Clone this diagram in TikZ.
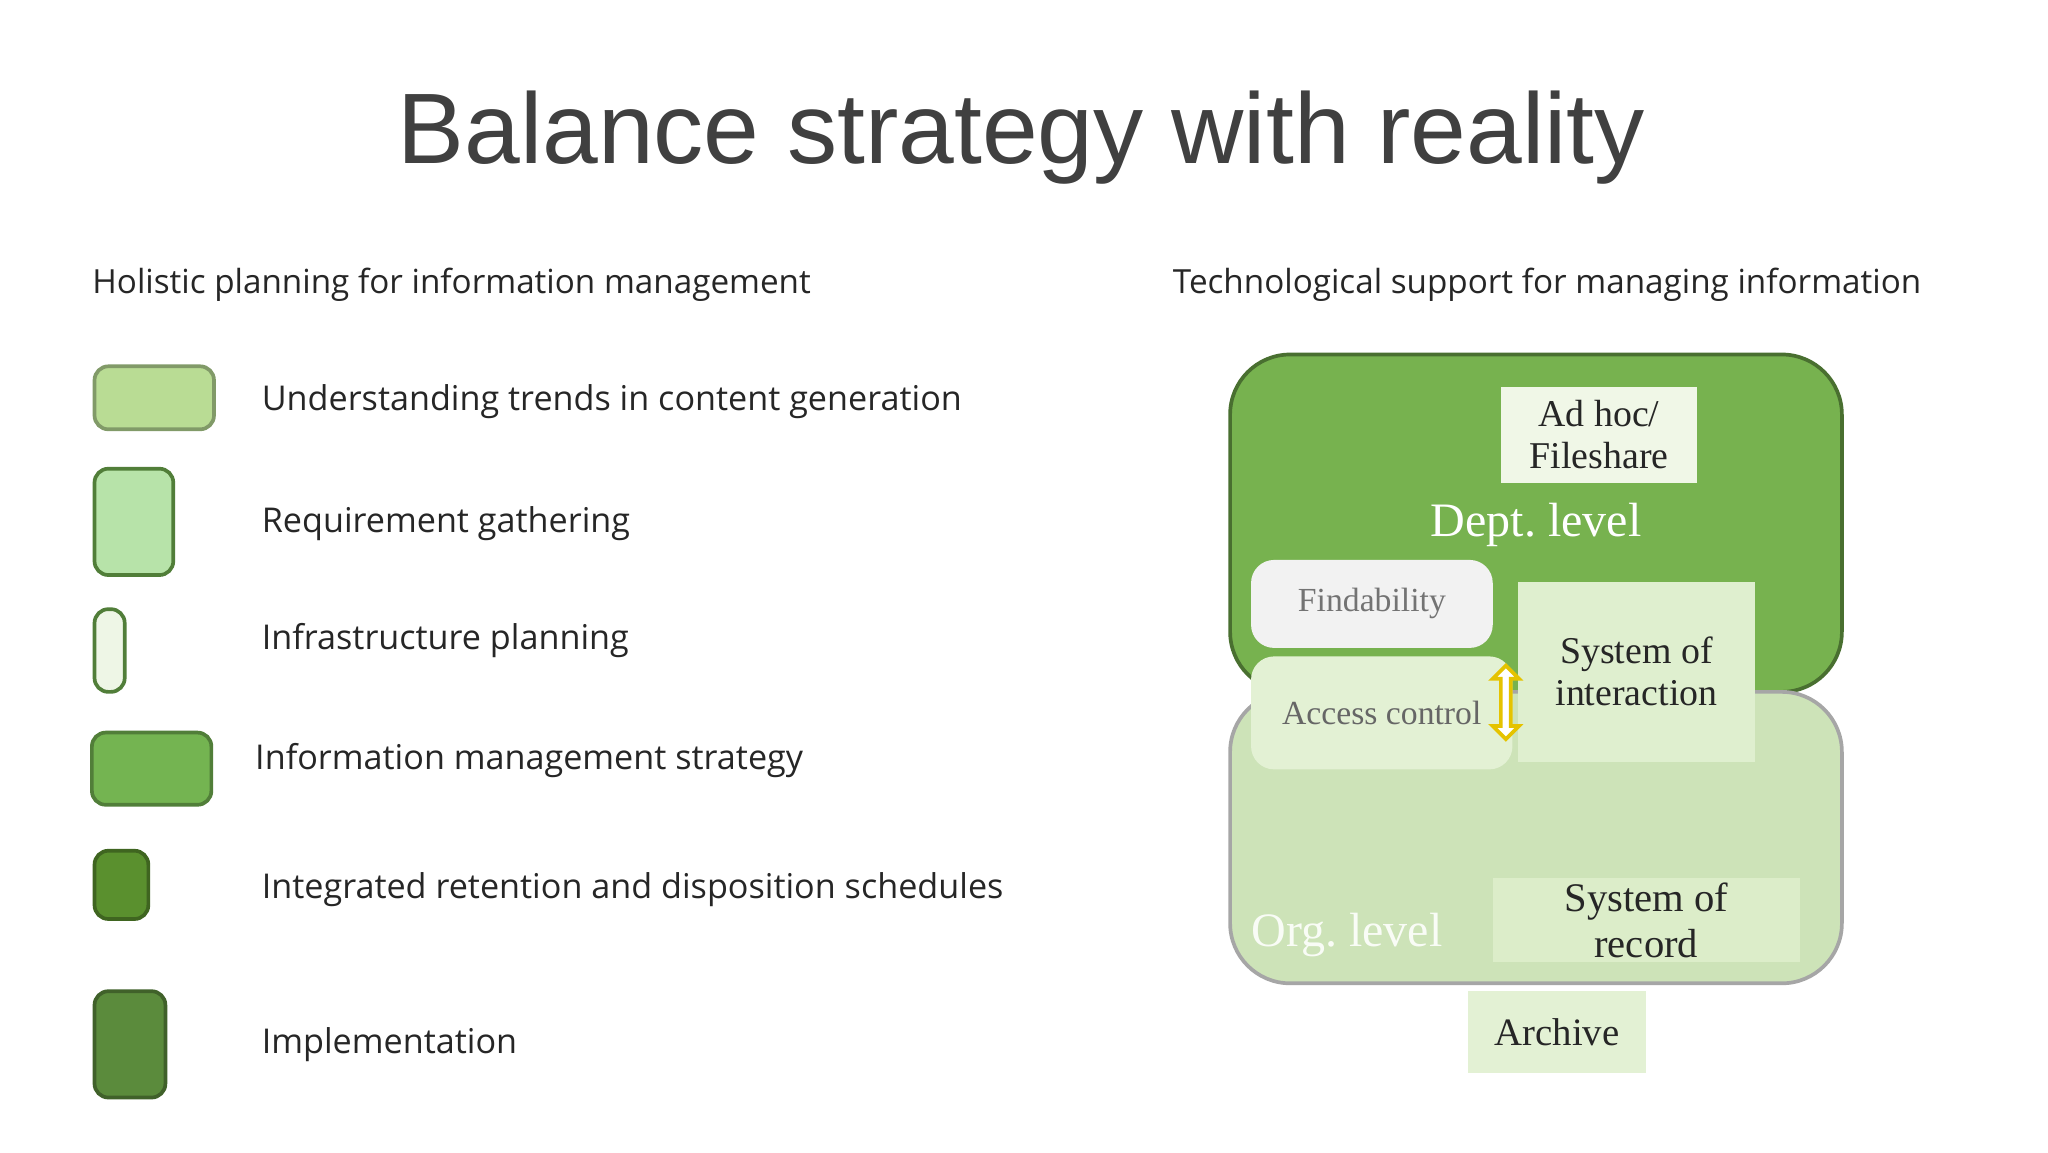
\documentclass[tikz,border=0pt]{standalone}
\usepackage{fontspec}
\setmainfont{Liberation Serif}
\newfontfamily\titlefont{Liberation Sans}
\newfontfamily\labfont{Open Sans}
\usetikzlibrary{shapes.arrows}
\definecolor{darkt}{HTML}{404040}
\tikzset{
 lg/.style={draw=#1!70!black, line width=0.8pt, rounded corners=3pt},
 lab/.style={anchor=west, font=\labfont\fontsize{7.4}{9}\selectfont, text=black!85},
 wbox/.style={inner sep=0pt, font=\fontsize{8.2}{10}\selectfont, align=center, text=black!85}
}
\begin{document}
\begin{tikzpicture}[x=0.01cm,y=-0.01cm]
\useasboundingbox[fill=white] (0,0) rectangle (1560,877.5);
\node[font=\titlefont\fontsize{21.7}{26}\selectfont, text=darkt] (title) at (778,105) {Balance strategy with reality};
\node[lab, font=\labfont\fontsize{7.2}{9}\selectfont] (hl) at (58,217) {Holistic planning for information management};
\node[lab, font=\labfont\fontsize{7.2}{9}\selectfont] (hr) at (881,217) {Technological support for managing information};
% legend
\definecolor{c1}{HTML}{B9DC94}\definecolor{c2}{HTML}{B7E3A9}\definecolor{c3}{HTML}{EEF6E6}
\definecolor{c4}{HTML}{74B451}\definecolor{c5}{HTML}{5A902E}\definecolor{c6}{HTML}{5B8B3C}
\definecolor{orgc}{HTML}{CDE3B8}\definecolor{deptc}{HTML}{77B24F}
\filldraw[lg=c1, fill=c1] (72,279) rectangle (163,327);
\filldraw[lg=c4, fill=c2] (72,357) rectangle (132,438);
\filldraw[lg=c4, fill=c3] (72,464) rectangle (95,527);
\filldraw[lg=c4, fill=c4] (70,558) rectangle (161,613);
\filldraw[lg=c5, fill=c5] (72,648) rectangle (113,700);
\filldraw[lg=c6, fill=c6] (72,755) rectangle (126,836);
\node[lab] (l1) at (187,306) {Understanding trends in content generation};
\node[lab] (l2) at (187,399) {Requirement gathering};
\node[lab] (l3) at (187,488) {Infrastructure planning};
\node[lab] (l4) at (182,579) {Information management strategy};
\node[lab] (l5) at (187,678) {Integrated retention and disposition schedules};
\node[lab] (l6) at (187,796) {Implementation};
% right diagram
\filldraw[draw=c6!80!black, fill=deptc, line width=0.8pt, rounded corners=13pt] (937,270) rectangle (1403,527);
\filldraw[draw=black!35, fill=orgc, line width=0.8pt, rounded corners=13pt] (937,527) rectangle (1403,749);
\node[wbox, fill=white!78!c1, minimum width=1.49cm, minimum height=0.73cm] (adhoc) at (1218,331) {Ad hoc/\\[-1pt]Fileshare};
\node[font=\fontsize{10.4}{12}\selectfont, text=white] (dept) at (1170,400) {Dept.\ level};
\node[wbox, fill=black!5, rounded corners=5pt, minimum width=1.84cm, minimum height=0.67cm, text=black!55, font=\fontsize{7.3}{9}\selectfont] (find) at (1045,460) {Findability};
\node[wbox, fill=white!60!c1, rounded corners=5pt, minimum width=1.99cm, minimum height=0.86cm, text=black!60, font=\fontsize{7.3}{9}\selectfont] (acc) at (1052.5,543) {Access control};
\node[wbox, fill=white!55!c1, minimum width=1.81cm, minimum height=1.37cm] (soi) at (1246.5,511.5) {System of\\[-1pt]interaction};
\node[double arrow, draw=orange!30!yellow!90!black, fill=white, rotate=90, minimum width=0.2cm, minimum height=0.56cm, inner sep=0.5pt, double arrow head extend=1.5pt, line width=0.8pt] (arr) at (1147,535) {};
\node[font=\fontsize{10.4}{12}\selectfont, text=white!92!c1] (org) at (1026,712) {Org.\ level};
\node[wbox, fill=white!50!c1, minimum width=2.34cm, minimum height=0.64cm, font=\fontsize{8.8}{11}\selectfont] (sor) at (1254,701) {System of\\[-1pt]record};
\node[wbox, fill=white!60!c1, minimum width=1.36cm, minimum height=0.62cm, font=\fontsize{8.4}{10}\selectfont] (arch) at (1186,786) {Archive};
\end{tikzpicture}
\end{document}
